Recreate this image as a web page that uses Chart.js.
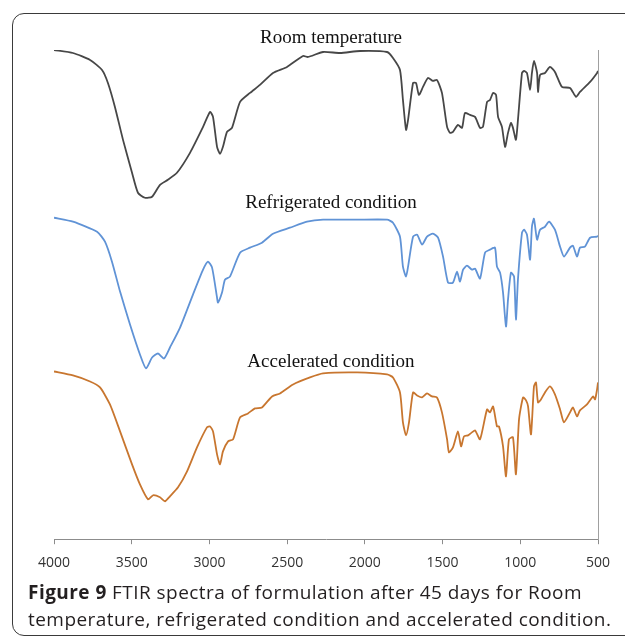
<!DOCTYPE html>
<html>
<head>
<meta charset="utf-8">
<script src="https://cdn.jsdelivr.net/npm/chart.js@4"></script>
<style>
  html, body { margin: 0; padding: 0; background: #fff; }
  body { width: 625px; height: 639px; position: relative; overflow: hidden; }
  #frame {
    position: absolute; left: 12px; top: 13px; width: 640px; height: 623px;
    border: 1.5px solid #3a3a3a; border-radius: 12px; box-sizing: border-box;
  }
  #wrap { position: absolute; left: 0; top: 0; width: 625px; height: 639px; }
  #caption {
    position: absolute; left: 28px; top: 579px; white-space: nowrap;
    font-family: "Open Sans", sans-serif; font-size: 19px; letter-spacing: 0.45px;
    line-height: 27px; color: #231f20;
  }
  #caption b { font-weight: 700; }
</style>
</head>
<body>
<div id="frame"></div>
<div id="wrap"><canvas id="ftir" width="625" height="639"></canvas></div>
<div id="caption"><b>Figure 9</b> FTIR spectra of formulation after 45 days for Room<br>temperature, refrigerated condition and accelerated condition.</div>
<script>
// wavenumbers (cm-1) and stacked transmittance values
var roomWn = [4000,3878,3768,3691,3653,3608,3556,3498,3460,3415,3369,3318,3267,3209,3125,3041,2996,2977,2951,2932,2913,2887,2855,2803,2739,2675,2591,2501,2398,2366,2269,2160,2031,1857,1819,1774,1755,1735,1722,1690,1671,1652,1626,1594,1562,1536,1504,1471,1452,1433,1401,1375,1356,1323,1291,1259,1240,1214,1195,1175,1156,1143,1118,1098,1079,1060,1047,1028,1015,989,976,957,937,925,912,892,886,873,841,809,777,732,680,641,616,551,506,500];
var roomT = [98,97.4,96,94,91.4,86.6,80,73.4,69.4,68.4,68.6,71,72,73.4,77.4,82.6,85.6,84.6,78.6,77.2,78.6,81.6,82.4,87.6,89.4,91,93.4,94.6,96.8,96.6,97.6,97.4,97.8,97.6,96.4,94,88,82,84,91.4,91.4,89,90.6,92.4,91.8,92,89.4,82.6,81.4,81.6,83,82.4,85.4,85,84.6,82.4,82.6,87.6,88,89.4,89,84.6,82.6,78.6,81.4,83.4,82.4,80,84,93.4,93.8,93.4,90,93.4,95.8,93.4,89.6,93,93.4,94.6,93.6,90.6,90.4,88.6,89.6,91.6,93.4,93.8];

var fridgeWn = [4000,3878,3723,3672,3627,3575,3511,3447,3408,3369,3331,3292,3254,3189,3106,3041,3009,2983,2951,2945,2919,2900,2868,2803,2739,2662,2591,2482,2372,2269,2050,1857,1819,1774,1755,1735,1722,1690,1664,1632,1600,1562,1529,1497,1465,1433,1407,1388,1368,1343,1311,1291,1259,1227,1195,1163,1150,1130,1111,1092,1079,1060,1040,1028,1015,989,976,957,937,925,912,892,873,841,815,777,744,719,680,661,635,616,584,551,506,500];
var fridgeT = [64.4,63.6,61.6,59.6,55.6,49.6,43,37,34.2,36.4,37.2,36.2,38.4,42.4,49,54,55.6,54.4,48.4,47.4,49.4,52,52.6,57.4,58.4,59.4,61.2,62.4,63.6,64,64,64,63.4,60.6,54.6,52.6,54.6,60.6,61,59,60.6,61.2,60.4,56.6,51.4,51.4,53.6,51.6,54,54.8,54,54.2,52.2,57.4,58,58.4,54.6,53.4,49.4,42.6,48,53.4,52.6,44,52,61.4,62,61,56,62.6,64.2,60,62,62.6,63.6,62,58.6,56.6,58.4,58.8,56.6,58.4,58.6,60.4,60.6,60.8];

var accelWn = [4000,3878,3768,3704,3640,3575,3498,3447,3395,3363,3318,3286,3254,3202,3144,3080,3016,2996,2977,2951,2932,2913,2880,2848,2803,2752,2707,2662,2597,2546,2462,2353,2269,2050,1857,1819,1774,1755,1735,1716,1690,1664,1632,1600,1568,1536,1504,1471,1459,1433,1401,1381,1362,1336,1311,1291,1259,1214,1195,1175,1150,1137,1111,1092,1073,1047,1028,1008,982,963,950,931,912,899,886,867,841,809,777,744,719,680,661,635,616,571,532,519,506,500];
var accelT = [33.6,32.8,31.6,30.4,27,21.6,15,11,8,8.8,8.4,7.6,8.6,10.4,13.6,18.4,22.4,22.6,21.6,17,15,17.6,19.6,20,24.4,25.2,26.2,26.4,28.6,29.2,31,32.4,33.2,33.4,33,32.4,29.4,23.4,20.8,23.4,29.4,28.8,28.4,29.2,28.6,28.4,25.4,20,17.4,18.4,21.6,18.6,20.6,20.8,21.4,21.8,20,26,25.4,26.6,22.6,22.6,18.6,12.6,20,20.4,13,24,28.4,27.8,26.6,21,30.6,31.4,27.4,28,29.4,30.6,29,26,23.4,25.4,26.4,24.6,25.8,27,28.6,28,30,31.4];

var seriesNames = ["Room temperature", "Refrigerated condition", "Accelerated condition"];
var xTicks = [4000,3500,3000,2500,2000,1500,1000,500];

function pairs(xs, ys) {
    var out = [];
    for (var i = 0; i < xs.length; i++) {
        out.push({x: xs[i], y: ys[i]});
    }
    return out;
}

// curve titles, placed in data units above each trace
var titleAt = [[2218, 99.4], [2218, 66.4], [2218, 34.4]];

var curveTitles = {
    id: 'curveTitles',
    afterDatasetsDraw: function(chart) {
        var ctx = chart.ctx;
        var xs = chart.scales.x, ys = chart.scales.y;
        ctx.save();
        ctx.font = '19px "Liberation Serif", "Times New Roman", serif';
        ctx.fillStyle = '#111';
        ctx.textAlign = 'center';
        ctx.textBaseline = 'alphabetic';
        for (var i = 0; i < seriesNames.length; i++) {
            ctx.fillText(seriesNames[i], xs.getPixelForValue(titleAt[i][0]), ys.getPixelForValue(titleAt[i][1]));
        }
        ctx.restore();
    }
};

var ctx = document.getElementById('ftir').getContext('2d');
var chart = new Chart(ctx, {
    type: 'line',
    data: {
        datasets: [{
            label: seriesNames[0],
            data: pairs(roomWn, roomT),
            borderColor: '#474747',
            borderWidth: 1.8
        }, {
            label: seriesNames[1],
            data: pairs(fridgeWn, fridgeT),
            borderColor: '#6093d6',
            borderWidth: 1.8
        }, {
            label: seriesNames[2],
            data: pairs(accelWn, accelT),
            borderColor: '#c8762f',
            borderWidth: 1.8
        }]
    },
    options: {
        responsive: false,
        animation: false,
        events: [],
        layout: { padding: { left: 54, right: 27, top: 50, bottom: 58 } },
        elements: { point: { radius: 0 }, line: { tension: 0.2, fill: false } },
        plugins: { legend: { display: false }, tooltip: { enabled: false } },
        scales: {
            x: {
                type: 'linear',
                reverse: true,
                min: 500,
                max: 4000,
                afterBuildTicks: function(scale) {
                    scale.ticks = xTicks.map(function(v) { return {value: v}; });
                },
                grid: { drawOnChartArea: false, drawTicks: true, tickLength: 5, color: '#8c8c8c' },
                border: { color: '#8c8c8c', width: 1 },
                ticks: {
                    padding: 10,
                    color: '#333',
                    font: { family: '"Open Sans", sans-serif', size: 14 },
                    maxRotation: 0,
                    callback: function(v) { return String(v); }
                }
            },
            y: {
                position: 'right',
                min: 0,
                max: 98,
                grid: { display: false, drawTicks: false },
                border: { display: true, color: '#a0a0a0', width: 1 },
                ticks: { display: false }
            }
        }
    },
    plugins: [curveTitles]
});
</script>
</body>
</html>
